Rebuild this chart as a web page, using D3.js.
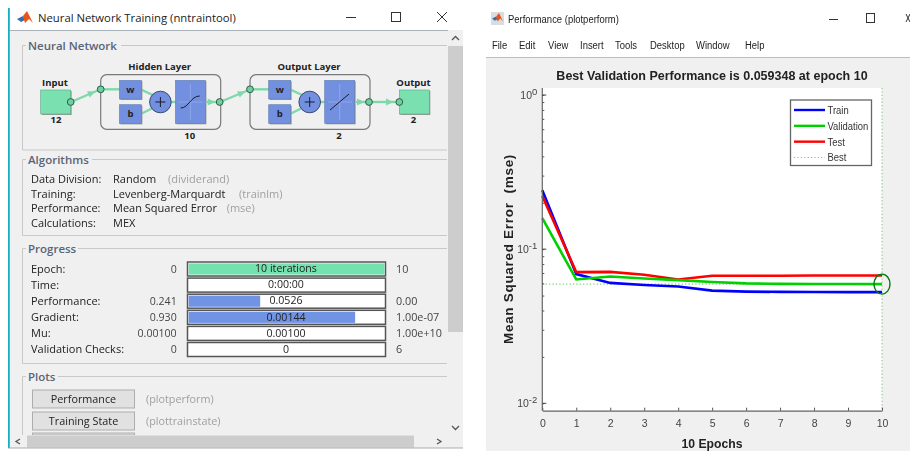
<!DOCTYPE html>
<html>
<head>
<meta charset="utf-8">
<script src="https://d3js.org/d3.v7.min.js"></script>
<style>
html, body { margin: 0; padding: 0; background: #fff; overflow: hidden; }
svg { display: block; filter: blur(0.4px); }
.ui { font-family: "Open Sans", "Noto Sans", sans-serif; }
.plot { font-family: "Liberation Sans", Arial, sans-serif; }
</style>
</head>
<body>
<svg id="chart" width="910" height="451"></svg>
<script>
// performance curves
var epochs = [0, 1, 2, 3, 4, 5, 6, 7, 8, 9, 10];
var trainMse = [0.241, 0.0689, 0.0604, 0.0586, 0.0572, 0.0538, 0.0530, 0.0528, 0.0527, 0.0526, 0.0526];
var validationMse = [0.159, 0.0636, 0.0664, 0.0645, 0.0630, 0.0612, 0.0600, 0.0595, 0.0594, 0.0594, 0.059348];
var testMse = [0.221, 0.0709, 0.0712, 0.0682, 0.0636, 0.0672, 0.0672, 0.0672, 0.0675, 0.0675, 0.0675];
var bestEpoch = 10, bestMse = 0.059348;
var legendNames = ["Train", "Validation", "Test", "Best"];
var seriesColors = ["#0000ff", "#00d000", "#ff0000"];
var yTicks = [1, 0.1, 0.01];
var xTicks = [0, 1, 2, 3, 4, 5, 6, 7, 8, 9, 10];

// nntraintool panel text
var menuNames = ["File", "Edit", "View", "Insert", "Tools", "Desktop", "Window", "Help"];
var algoLabels = ["Data Division:", "Training:", "Performance:", "Calculations:"];
var algoValues = ["Random", "Levenberg-Marquardt", "Mean Squared Error", "MEX"];
var algoNotes = ["(dividerand)", "(trainlm)", "(mse)", ""];
var progLabels = ["Epoch:", "Time:", "Performance:", "Gradient:", "Mu:", "Validation Checks:"];
var progStart = ["0", "", "0.241", "0.930", "0.00100", "0"];
var progNow = ["10 iterations", "0:00:00", "0.0526", "0.00144", "0.00100", "0"];
var progEnd = ["10", "", "0.00", "1.00e-07", "1.00e+10", "6"];
var progFill = [1, 0, 0.365, 0.85, 0, 0];
var plotNames = ["Performance", "Training State"];
var plotFuncs = ["(plotperform)", "(plottrainstate)"];

var svg = d3.select("#chart");

function rect(g, x, y, w, h, fill, stroke, sw) {
  return g.append("rect").attr("x", x).attr("y", y).attr("width", w).attr("height", h)
    .attr("fill", fill).attr("stroke", stroke || "none").attr("stroke-width", sw || 1);
}
function line(g, x1, y1, x2, y2, color, sw) {
  return g.append("line").attr("x1", x1).attr("y1", y1).attr("x2", x2).attr("y2", y2)
    .attr("stroke", color).attr("stroke-width", sw || 1);
}
function label(g, x, y, str, size, color, anchor, weight) {
  return g.append("text").attr("x", x).attr("y", y).attr("dy", "0.35em")
    .attr("font-size", size).attr("fill", color || "#222")
    .attr("text-anchor", anchor || "start").attr("font-weight", weight || "normal").text(str);
}
// the plot window text is narrow and tall, squeeze it horizontally
function narrowLabel(g, x, y, str, size, color) {
  return g.append("text").attr("transform", "translate(" + x + "," + y + ") scale(0.86,1)").attr("dy", "0.35em")
    .attr("font-size", size).attr("fill", color || "#222").text(str);
}

// ---- matlab logo for the two title bars
function logo(g, x, y, s) {
  g.append("path").attr("d", "M" + x + " " + (y + 8 * s) + " L" + (x + 6 * s) + " " + (y + 5 * s) + " L" + (x + 8 * s) + " " + (y + 9 * s) + " L" + (x + 4 * s) + " " + (y + 11 * s) + "Z").attr("fill", "#3a6ea5");
  g.append("path").attr("d", "M" + (x + 6 * s) + " " + (y + 5 * s) + " L" + (x + 10 * s) + " " + y + " L" + (x + 16 * s) + " " + (y + 12 * s) + " L" + (x + 12 * s) + " " + (y + 8 * s) + " L" + (x + 8 * s) + " " + (y + 12 * s) + "Z").attr("fill", "#e8541c");
}

// ---- left window
var left = svg.append("g").attr("class", "ui");
rect(left, 8, 8, 455, 440, "#fff");
rect(left, 10, 30, 453, 405, "#f0f0f0");
line(left, 10, 30.5, 463, 30.5, "#a9b1b8", 1);
rect(left, 8, 8, 1.8, 440, "#14b0c0");
logo(left, 17, 11, 1);
label(left, 38, 18, "Neural Network Training (nntraintool)", 11.3, "#222");
line(left, 346, 17.5, 356, 17.5, "#333", 1);
rect(left, 391.5, 12.5, 9, 9, "none", "#333", 1);
line(left, 437, 12, 447, 22, "#333", 1);
line(left, 447, 12, 437, 22, "#333", 1);

// group boxes
function group(title, top, bottom, textW) {
  left.append("path").attr("d", "M26 " + top + " H22.5 V" + bottom + " H447").attr("fill", "none").attr("stroke", "#c8c8c8");
  line(left, 28 + textW, top, 447, top, "#c8c8c8");
  label(left, 28, top, title, 11.5, "#5a6478", "start", 600);
}
group("Neural Network", 45.5, 150, 93);
group("Algorithms", 159.5, 235.5, 64);
group("Progress", 248.5, 363.5, 50);
group("Plots", 376.5, 440, 30);

// network diagram
var green = "#7be0b0", blue = "#7390e0", wire = "#7fd8ac";
var net = left.append("g");
function blockLabel(x, y, str, anchor) { label(net, x, y, str, 9.5, "#222", anchor || "middle", 700); }
function dot(x, y) {
  net.append("circle").attr("cx", x).attr("cy", y).attr("r", 3.4).attr("fill", "#6fcf9f").attr("stroke", "#2f5d48").attr("stroke-width", 1);
}
function arrow(x, y, ang) {
  net.append("path").attr("d", "M-5 -3.4 L2.5 0 L-5 3.4Z").attr("fill", wire)
    .attr("transform", "translate(" + x + "," + y + ") rotate(" + ang + ")");
}
function shadowRect(x, y, w, h, fill) {
  rect(net, x + 1, y + 1, w, h, "#9a9a9a");
  rect(net, x, y, w, h, fill, "#5f7fb0", 0.6);
}
function layer(x0, title, size, isSig) {
  net.append("rect").attr("x", x0).attr("y", 74.7).attr("width", 120).attr("height", 54.6).attr("rx", 6)
    .attr("fill", "#f0f0f0").attr("stroke", "#7a7a7a").attr("stroke-width", 1.2);
  blockLabel(x0 + 59, 67, title);
  blockLabel(x0 + 89, 136, size);
  line(net, x0, 89.3, x0 + 20, 89.3, wire, 2.4);
  net.append("path").attr("d", "M" + (x0 + 40) + " 89.3 L" + (x0 + 52) + " 95").attr("stroke", wire).attr("stroke-width", 2.4).attr("fill", "none");
  net.append("path").attr("d", "M" + (x0 + 40) + " 114 L" + (x0 + 52) + " 108").attr("stroke", wire).attr("stroke-width", 2.4).attr("fill", "none");
  line(net, x0 + 66, 102, x0 + 76, 102, wire, 2.4);
  shadowRect(x0 + 18.7, 80.3, 22, 18.7, blue);
  shadowRect(x0 + 18.7, 104.7, 22, 18.7, blue);
  blockLabel(x0 + 29.7, 89.5, "w");
  blockLabel(x0 + 29.7, 114, "b");
  net.append("circle").attr("cx", x0 + 59.7).attr("cy", 102).attr("r", 10.8).attr("fill", blue).attr("stroke", "#3b4a70").attr("stroke-width", 1);
  line(net, x0 + 54.7, 102, x0 + 64.7, 102, "#1a1a2a", 1);
  line(net, x0 + 59.7, 97, x0 + 59.7, 107, "#1a1a2a", 1);
  shadowRect(x0 + 74.7, 80.3, 30, 43, blue);
  line(net, x0 + 89.7, 84, x0 + 89.7, 120, "#8ea6e8", 1);
  line(net, x0 + 78, 102, x0 + 102, 102, "#8ea6e8", 1);
  var curve = isSig ? "M" + (x0 + 80) + " 108 C" + (x0 + 88) + " 108 " + (x0 + 90) + " 96 " + (x0 + 99) + " 96"
                    : "M" + (x0 + 80) + " 110 L" + (x0 + 99) + " 94";
  net.append("path").attr("d", curve).attr("fill", "none").attr("stroke", "#1a1a2a").attr("stroke-width", 1);
  line(net, x0 + 105, 102, x0 + 119, 102, wire, 2.4);
  arrow(x0 + 112, 102, 0);
  dot(x0, 89.3);
  dot(x0 + 119, 102);
}
rect(net, 41.7, 91, 30, 24, "#9a9a9a");
rect(net, 40.7, 90, 30, 24, green, "#58a888", 0.6);
rect(net, 400.3, 91, 30, 24, "#9a9a9a");
rect(net, 399.3, 90, 30, 24, green, "#58a888", 0.6);
blockLabel(55, 83, "Input");
blockLabel(56, 120, "12");
blockLabel(413.5, 83, "Output");
blockLabel(413.5, 120, "2");
line(net, 71, 102, 100, 89.5, wire, 2.4);
line(net, 220, 102, 250, 89.5, wire, 2.4);
line(net, 369, 102, 399, 102, wire, 2.4);
arrow(93, 92.5, -23);
arrow(243, 92.5, -23);
arrow(391, 102, 0);
layer(100.7, "Hidden Layer", "10", true);
layer(250, "Output Layer", "2", false);
dot(70.7, 102);
dot(399.3, 102);

// algorithms
var algoRow = d3.scaleLinear().domain([0, 3]).range([179.3, 223]);
var algoNoteX = [168, 239, 226.7];
algoLabels.forEach(function (d, i) {
  label(left, 31, algoRow(i), d, 11, "#222");
  label(left, 113, algoRow(i), algoValues[i], 11, "#222");
  if (algoNotes[i]) label(left, algoNoteX[i], algoRow(i), algoNotes[i], 11, "#a0a0a0");
});

// progress bars
var progRow = d3.scaleLinear().domain([0, 5]).range([269, 349.5]);
var progX = d3.scaleLinear().domain([0, 1]).range([188.7, 384.5]);
progLabels.forEach(function (d, i) {
  var cy = progRow(i);
  label(left, 31, cy, d, 11, "#222");
  label(left, 176.7, cy, progStart[i], 10.6, "#444", "end");
  rect(left, 187.5, cy - 7, 198, 14, "#fff", "#555", 1.5);
  var barColor = i === 0 ? "#74e2ae" : "#7193e4";
  if (progFill[i] > 0) rect(left, progX(0), cy - 5.6, progX(progFill[i]) - progX(0), 11.2, barColor);
  label(left, 286, cy - 0.5, progNow[i], 10.6, "#222", "middle");
  label(left, 396, cy, progEnd[i], 10.8, "#444");
});

// plot buttons
var btnRow = d3.scaleLinear().domain([0, 1]).range([399, 421]);
plotNames.forEach(function (d, i) {
  rect(left, 32.5, btnRow(i) - 9, 102, 18, "#e1e1e1", "#adadad", 1);
  label(left, 83.5, btnRow(i), d, 10.8, "#222", "middle");
  label(left, 146, btnRow(i), plotFuncs[i], 10.8, "#a0a0a0");
});
rect(left, 32.5, 433, 102, 2, "#e1e1e1", "#adadad", 1);

// scrollbars
rect(left, 448, 30, 15, 405, "#f0f0f0");
rect(left, 448, 46, 15, 286, "#cdcdcd");
left.append("path").attr("d", "M452 40 L455.5 36.5 L459 40").attr("fill", "none").attr("stroke", "#555").attr("stroke-width", 1.3);
left.append("path").attr("d", "M452 426 L455.5 429.5 L459 426").attr("fill", "none").attr("stroke", "#555").attr("stroke-width", 1.3);
rect(left, 10, 435, 453, 13, "#f0f0f0");
rect(left, 27, 435.5, 387, 12, "#cdcdcd");
left.append("path").attr("d", "M20 439 L16 441.5 L20 444").attr("fill", "none").attr("stroke", "#555").attr("stroke-width", 1.3);
left.append("path").attr("d", "M437 439 L441 441.5 L437 444").attr("fill", "none").attr("stroke", "#555").attr("stroke-width", 1.3);
line(left, 8, 448, 463, 448, "#9a9a9a", 0.8);

// ---- right window
var right = svg.append("g").attr("class", "plot");
rect(right, 486, 58, 424, 393, "#f0f0f0");
line(right, 486, 57.5, 910, 57.5, "#bdbdbd", 1);
rect(right, 491, 12, 13, 13, "#d8dde2");
logo(right, 492, 13, 0.7);
narrowLabel(right, 508, 19, "Performance (plotperform)", 11, "#222");
line(right, 829, 19.5, 838, 19.5, "#333", 1);
rect(right, 866.5, 13.5, 8, 9, "none", "#333", 1);
line(right, 906, 14, 910, 22, "#333", 1);
line(right, 906, 22, 910, 14, "#333", 1);
var menuX = [492, 519, 548, 580, 615, 650, 696, 745];
menuNames.forEach(function (d, i) { narrowLabel(right, menuX[i], 45, d, 11, "#222"); });

label(right, 712, 76, "Best Validation Performance is 0.059348 at epoch 10", 12.5, "#222", "middle", 700);

var x = d3.scaleLinear().domain([0, 10]).range([542.3, 882]);
var y = d3.scaleLog().domain([0.01, 1]).range([403.3, 95]);
var plotTop = 88, plotBottom = 410.7;

rect(right, x(0), plotTop, x(10) - x(0), plotBottom - plotTop, "#fff");

// best marker lines
var bestColor = "#7cc87c";
line(right, x(0), y(bestMse), x(10), y(bestMse), bestColor, 1.1).attr("stroke-dasharray", "1.2 2.2");
line(right, x(bestEpoch), plotTop, x(bestEpoch), plotBottom, bestColor, 1.1).attr("stroke-dasharray", "1.2 2.2");

var mseLine = d3.line().x(function (d, i) { return x(epochs[i]); }).y(function (d) { return y(d); });
[trainMse, testMse, validationMse].forEach(function (s, i) {
  var color = [seriesColors[0], seriesColors[2], seriesColors[1]][i];
  right.append("path").datum(s).attr("d", mseLine).attr("fill", "none").attr("stroke", color).attr("stroke-width", 2.6);
});
right.append("ellipse").attr("cx", x(bestEpoch)).attr("cy", y(bestMse)).attr("rx", 8).attr("ry", 10)
  .attr("fill", "none").attr("stroke", "#067a10").attr("stroke-width", 1.4);

// axes
var xAxis = d3.axisBottom(x).tickValues(xTicks).tickSize(-3).tickSizeOuter(0).tickPadding(9).tickFormat(d3.format("d"));
var minorVals = [];
[0.01, 0.1].forEach(function (dec) { d3.range(1, 10).forEach(function (m) { minorVals.push(dec * m); }); });
minorVals.push(1);
var yAxis = d3.axisLeft(y).tickValues(minorVals).tickSize(-2).tickSizeOuter(0).tickFormat("");

var gx = right.append("g").attr("transform", "translate(0," + plotBottom + ")").call(xAxis);
gx.select(".domain").attr("stroke", "#666").attr("stroke-width", 1.2);
gx.selectAll("line").attr("stroke", "#555");
gx.selectAll("text").attr("font-size", 10.5).attr("fill", "#444").attr("font-family", "Liberation Sans");

var gy = right.append("g").attr("transform", "translate(" + x(0) + ",0)").call(yAxis);
gy.select(".domain").attr("d", "M0 " + plotTop + "V" + plotBottom).attr("stroke", "#666").attr("stroke-width", 1.2);
gy.selectAll("line").attr("stroke", "#555");

// decade ticks + 10^n labels
yTicks.forEach(function (t) {
  line(right, x(0), y(t), x(0) + 4, y(t), "#444", 1);
  var txt = right.append("text").attr("x", x(0) - 5).attr("y", y(t)).attr("dy", "0.35em")
    .attr("text-anchor", "end").attr("font-size", 10.5).attr("fill", "#444");
  txt.append("tspan").text("10");
  txt.append("tspan").attr("dy", "-0.4em").attr("font-size", 9.5).text(Math.round(Math.log10(t)));
});

label(right, 712, 444, "10 Epochs", 12.2, "#222", "middle", 700);
right.append("text").attr("transform", "translate(508,249) rotate(-90)").attr("dy", "0.35em")
  .attr("text-anchor", "middle").attr("font-size", 13.5).attr("font-weight", 700).attr("fill", "#222")
  .attr("letter-spacing", 0.7)
  .text("Mean Squared Error\u00a0\u00a0(mse)");

// legend
var legend = right.append("g");
rect(legend, 790.5, 100, 81, 65.5, "#fff", "#666", 1.3);
var legendRow = d3.scaleLinear().domain([0, 3]).range([110, 157.5]);
legendNames.forEach(function (d, i) {
  var l = line(legend, 794, legendRow(i), 825, legendRow(i), i < 3 ? seriesColors[i] : bestColor, i < 3 ? 2.4 : 1.1);
  if (i === 3) l.attr("stroke-dasharray", "1.2 2.2");
  narrowLabel(legend, 827.5, legendRow(i), d, 11, "#333");
});
</script>
</body>
</html>
